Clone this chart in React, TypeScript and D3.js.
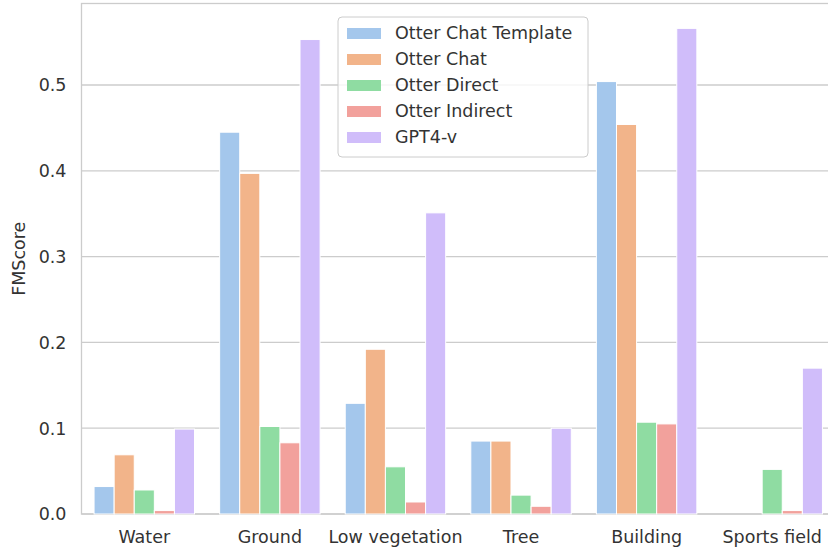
import React from "react";
import * as d3 from "d3";

const categories = ["Water", "Ground", "Low vegetation", "Tree", "Building", "Sports field"];
const seriesNames = ["Otter Chat Template", "Otter Chat", "Otter Direct", "Otter Indirect", "GPT4-v"];
const otterChatTemplate = [0.032, 0.445, 0.129, 0.085, 0.504, 0.0];
const otterChat = [0.069, 0.397, 0.192, 0.085, 0.454, 0.0];
const otterDirect = [0.028, 0.102, 0.055, 0.022, 0.107, 0.052];
const otterIndirect = [0.004, 0.083, 0.014, 0.009, 0.105, 0.004];
const gpt4v = [0.099, 0.553, 0.351, 0.1, 0.566, 0.17];
const yTicks = [0.0, 0.1, 0.2, 0.3, 0.4, 0.5];
const colors = ["#a4c7ec", "#f2b48a", "#8fdca2", "#f2a19c", "#d0bdfa"];

const seriesValues = [otterChatTemplate, otterChat, otterDirect, otterIndirect, gpt4v];

const W = 828;
const H = 548;
// the right side of the axes runs past the visible canvas
const plot = { left: 81.5, right: 835, top: 3.5, bottom: 514 };
const FONT = "'DejaVu Sans', sans-serif";
const FS = 17.5;
const TEXT = "#333333";
const GRID = "#cccccc";

export default function App() {
  const x = d3
    .scaleBand<string>()
    .domain(categories)
    .range([plot.left, plot.right])
    .paddingInner(0.2)
    .paddingOuter(0.1);
  const xs = d3.scaleBand<string>().domain(seriesNames).range([0, x.bandwidth()]);
  const y = d3.scaleLinear().domain([0, 0.595]).range([plot.bottom, plot.top]);

  const legend = { x: 338, y: 17, w: 250, h: 140, row: 26 };

  return (
    <svg
      width={W}
      height={H}
      style={{ position: "absolute", left: 0, top: 0, background: "#fff" }}
      fontFamily={FONT}
    >
      {/* grid */}
      {yTicks.map((t) => (
        <line
          key={"g" + t}
          x1={plot.left}
          x2={plot.right}
          y1={y(t)}
          y2={y(t)}
          stroke={GRID}
          strokeWidth={1.3}
        />
      ))}
      {/* frame */}
      <rect
        x={plot.left}
        y={plot.top}
        width={plot.right - plot.left}
        height={plot.bottom - plot.top}
        fill="none"
        stroke={GRID}
        strokeWidth={1.3}
      />
      {/* bars */}
      {seriesValues.map((vals, si) =>
        vals.map((v, ci) => {
          const bx = (x(categories[ci]) ?? 0) + (xs(seriesNames[si]) ?? 0);
          return (
            <rect
              key={`b${si}-${ci}`}
              x={bx}
              y={y(v)}
              width={xs.bandwidth()}
              height={plot.bottom - y(v)}
              fill={colors[si]}
              stroke="#fff"
              strokeWidth={1}
            />
          );
        })
      )}
      {/* y ticks */}
      {yTicks.map((t) => (
        <text
          key={"yt" + t}
          x={plot.left - 15}
          y={y(t)}
          dy="0.36em"
          textAnchor="end"
          fontSize={FS}
          fill={TEXT}
        >
          {d3.format(".1f")(t)}
        </text>
      ))}
      <text
        transform={`translate(19,${(plot.top + plot.bottom) / 2}) rotate(-90)`}
        textAnchor="middle"
        dy="0.36em"
        fontSize={FS}
        fill={TEXT}
      >
        FMScore
      </text>
      {/* x ticks */}
      {categories.map((c) => (
        <text
          key={"xt" + c}
          x={(x(c) ?? 0) + x.bandwidth() / 2}
          y={plot.bottom + 29}
          textAnchor="middle"
          fontSize={FS}
          fill={TEXT}
        >
          {c}
        </text>
      ))}
      {/* legend */}
      <rect
        x={legend.x}
        y={legend.y}
        width={legend.w}
        height={legend.h}
        rx={4}
        fill="#fff"
        fillOpacity={0.8}
        stroke={GRID}
        strokeWidth={1}
      />
      {seriesNames.map((s, i) => {
        const cy = legend.y + 16 + i * legend.row;
        return (
          <g key={"l" + s}>
            <rect x={legend.x + 9} y={cy - 5} width={34} height={11} fill={colors[i]} />
            <text x={legend.x + 57} y={cy} dy="0.36em" fontSize={FS} fill={TEXT}>
              {s}
            </text>
          </g>
        );
      })}
    </svg>
  );
}
